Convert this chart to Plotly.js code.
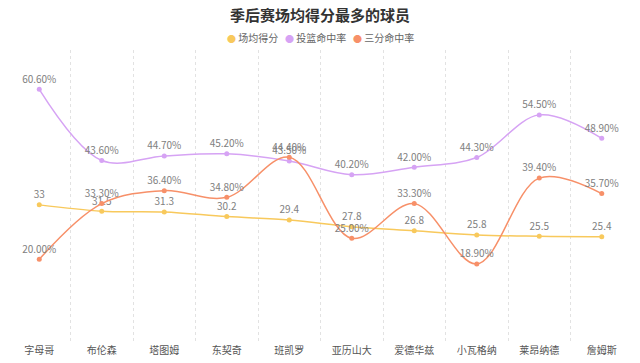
<!DOCTYPE html>
<html>
<head>
<meta charset="utf-8">
<script src="https://cdn.plot.ly/plotly-3.0.1.min.js"></script>
<style>html,body{margin:0;padding:0;background:#fff;}#chart{width:640px;height:363px;}</style>
</head>
<body>
<div id="chart"></div>
<script>
const players = ['字母哥','布伦森','塔图姆','东契奇','班凯罗','亚历山大','爱德华兹','小瓦格纳','莱昂纳德','詹姆斯'];
const points = [33, 31.5, 31.3, 30.2, 29.4, 27.8, 26.8, 25.8, 25.5, 25.4];
const fgPct = [60.6, 43.6, 44.7, 45.2, 43.5, 40.2, 42.0, 44.3, 54.5, 48.9];
const threePct = [20.0, 33.3, 36.4, 34.8, 44.4, 25.0, 33.3, 18.9, 39.4, 35.7];
const seriesNames = ['场均得分','投篮命中率','三分命中率'];
const colors = ['#F8C95C','#D6A3F4','#F79069'];

const font = '"Noto Sans CJK SC", "Noto Sans", sans-serif';
function mk(y, name, color, text) {
  return {
    x: players, y: y, name: name, type: 'scatter', mode: 'lines+markers+text',
    line: {color: color, width: 1.5, shape: 'spline', smoothing: 1},
    marker: {color: color, size: 5},
    text: text, textposition: 'top center',
    textfont: {family: font, size: 10, color: '#808080'},
    showlegend: false, cliponaxis: false, hoverinfo: 'x+y'
  };
}
const traces = [
  mk(points, seriesNames[0], colors[0], points.map(v => String(v))),
  mk(fgPct, seriesNames[1], colors[1], fgPct.map(v => v.toFixed(2) + '%')),
  mk(threePct, seriesNames[2], colors[2], threePct.map(v => v.toFixed(2) + '%'))
];

const legendText = seriesNames.map((n, i) =>
  '<span style="color:' + colors[i] + ';font-size:9px">●</span> ' + n).join('   ');

const layout = {
  width: 640, height: 363,
  margin: {l: 8, r: 7, t: 50, b: 20},
  paper_bgcolor: '#fff', plot_bgcolor: '#fff',
  font: {family: font, color: '#555'},
  title: {text: '<b>季后赛场均得分最多的球员</b>', x: 0.5, xanchor: 'center', y: 1 - 16/363, yanchor: 'middle', yref: 'container',
          font: {family: font, size: 15, color: '#333'}},
  xaxis: {type: 'category', range: [-0.5, 9.5], tickson: 'boundaries', showgrid: true, gridcolor: '#e2e2e2', griddash: 'dot',
          gridwidth: 1, ticks: '', showline: false, zeroline: false, tickfont: {family: font, size: 10, color: '#555'}, ticklen: 0},
  yaxis: {range: [0, 70], showgrid: false, showticklabels: false, zeroline: false, showline: false, ticks: ''},
  annotations: [{xref: 'paper', yref: 'paper', x: 0.5, y: 1 + 13/293, xanchor: 'center', yanchor: 'middle', showarrow: false,
                 text: legendText, font: {family: font, size: 10, color: '#666'}}]
};
Plotly.newPlot('chart', traces, layout, {displayModeBar: false, staticPlot: true});
</script>
</body>
</html>
